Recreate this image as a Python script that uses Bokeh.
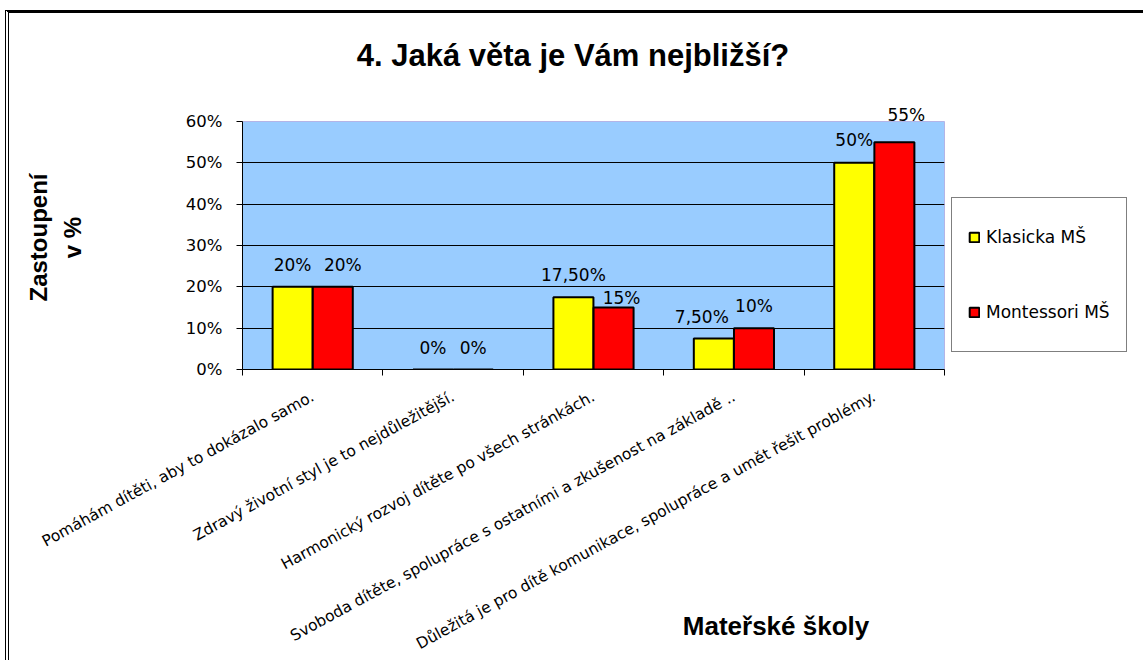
from bokeh.plotting import figure
from bokeh.models import (FactorRange, Range1d, ColumnDataSource, LinearAxis, CategoricalAxis,
                          FixedTicker, NumeralTickFormatter, Legend, LegendItem, LabelSet, Label, Grid)
from bokeh.transform import dodge
from bokeh.core.properties import value
from bokeh.embed import file_html
from bokeh.resources import INLINE

# ---------------- data ----------------
title_text = "4. Jaká věta je Vám nejbližší?"
x_title = "Mateřské školy"
y_title_lines = ["Zastoupení", "v %"]

categories = [
    "Pomáhám dítěti, aby to dokázalo samo.",
    "Zdravý životní styl je to nejdůležitější.",
    "Harmonický rozvoj dítěte po všech stránkách.",
    "Svoboda dítěte, spolupráce s ostatními a zkušenost na základě ..",
    "Důležitá je pro dítě komunikace, spolupráce a umět řešit problémy.",
]
series_names = ["Klasicka MŠ", "Montessori MŠ"]
klasicka = [0.20, 0.00, 0.175, 0.075, 0.50]
montessori = [0.20, 0.00, 0.15, 0.10, 0.55]
y_ticks = [0.0, 0.1, 0.2, 0.3, 0.4, 0.5, 0.6]

# label nudges (screen px) -- style only
k_dx = [0, 0, 0, -12, 0]
k_dy = [22, 22, 22, 22, 23]
m_dx = [10, 0, 8, 0, 12]
m_dy = [22, 22, 10, 22, 27]


def pct_label(v):
    pct = round(v * 100, 4)
    if abs(pct - round(pct)) < 1e-9:
        return f"{int(round(pct))}%"
    return f"{pct:.2f}%".replace(".", ",")


SMALL_FONT = "DejaVu Sans"
BIG_FONT = "Liberation Sans"
FRAME_W, FRAME_H = 702, 248
Y_MIN, Y_MAX = y_ticks[0], y_ticks[-1]
PX_PER_UNIT = FRAME_H / (Y_MAX - Y_MIN)
BAR_OFF, BAR_W = 0.143, 0.285
LABEL_SIZE = 17


def fits(v, dy):
    # does the (centred) label stay inside the plot frame?
    return (v - Y_MIN) * PX_PER_UNIT + dy + LABEL_SIZE / 2 + 1 <= FRAME_H


k_lbl = [pct_label(v) for v in klasicka]
m_lbl = [pct_label(v) for v in montessori]

src = ColumnDataSource(dict(
    cat=categories,
    k=klasicka, m=montessori,
    k_lbl=[t if fits(v, dy) else "" for t, v, dy in zip(k_lbl, klasicka, k_dy)],
    m_lbl=[t if fits(v, dy) else "" for t, v, dy in zip(m_lbl, montessori, m_dy)],
    k_dx=k_dx, k_dy=k_dy, m_dx=m_dx, m_dy=m_dy,
))

p = figure(
    x_range=FactorRange(*categories),
    y_range=Range1d(Y_MIN, Y_MAX),
    frame_width=FRAME_W, frame_height=FRAME_H,
    min_border_left=233, min_border_right=190,
    min_border_top=108, min_border_bottom=285,
    x_axis_location=None, y_axis_location=None,
    output_backend="svg", toolbar_location=None,
)
for g in p.grid:
    g.visible = False
p.styles = {"margin-left": "5px", "margin-top": "10px",
            "border-top": "3px solid black", "border-left": "4px double black"}
p.background_fill_color = "#99CCFF"
p.border_fill_color = "white"
p.outline_line_color = "#b4b4e6"
p.outline_line_width = 1

# grid (black lines inside plot area)
p.add_layout(Grid(dimension=1, ticker=FixedTicker(ticks=y_ticks[1:-1]),
                  grid_line_color="black", grid_line_width=1))

# y axis
yaxis = LinearAxis(
    ticker=FixedTicker(ticks=y_ticks),
    formatter=NumeralTickFormatter(format="0%"),
    axis_line_color="black", axis_line_width=1,
    major_tick_line_color="black", major_tick_out=6, major_tick_in=0,
    minor_tick_line_color=None,
    major_label_text_font=SMALL_FONT, major_label_text_font_size="16.5px",
    major_label_text_color="black", major_label_standoff=14,
)
p.add_layout(yaxis, "left")

# x axis: boundary ticks between categories (no labels)
bounds = list(range(len(categories) + 1))
xtick_axis = LinearAxis(
    ticker=FixedTicker(ticks=bounds),
    major_label_overrides={b: "" for b in bounds},
    axis_line_color="black", axis_line_width=1,
    major_tick_line_color="black", major_tick_out=6, major_tick_in=0,
    minor_tick_line_color=None,
    major_label_text_font_size="1px", major_label_standoff=0,
)
p.add_layout(xtick_axis, "below")

# x axis: category labels (rotated)
cat_axis = CategoricalAxis(
    axis_line_color=None, major_tick_line_color=None, minor_tick_line_color=None,
    major_label_orientation=0.5,
    major_label_text_font=SMALL_FONT, major_label_text_font_size="15.5px",
    major_label_text_color="black", major_label_standoff=14,
)
p.add_layout(cat_axis, "below")

# bars
r_k = p.vbar(x=dodge("cat", -BAR_OFF, range=p.x_range), top="k", width=BAR_W, source=src,
             fill_color="#FFFF00", line_color="black", line_width=2)
r_m = p.vbar(x=dodge("cat", BAR_OFF, range=p.x_range), top="m", width=BAR_W, source=src,
             fill_color="#FF0000", line_color="black", line_width=2)

# data labels inside the frame
for col, off in [("k", -BAR_OFF), ("m", BAR_OFF)]:
    p.add_layout(LabelSet(
        x=dodge("cat", off, range=p.x_range), y=col, text=col + "_lbl",
        x_offset=col + "_dx", y_offset=col + "_dy", source=src,
        text_align="center", text_baseline="middle",
        text_font=value(SMALL_FONT), text_font_size=f"{LABEL_SIZE}px", text_color="black",
    ))

# data labels that stick out above the frame: unclipped single labels
for vals, lbls, dxs, dys, off in [(klasicka, k_lbl, k_dx, k_dy, -BAR_OFF),
                                  (montessori, m_lbl, m_dx, m_dy, BAR_OFF)]:
    for i, (v, t, dx, dy) in enumerate(zip(vals, lbls, dxs, dys)):
        if not fits(v, dy):
            p.add_layout(Label(x=i + 0.5 + off, y=v, x_offset=dx, y_offset=dy, text=t,
                               text_align="center", text_baseline="middle",
                               text_font=SMALL_FONT, text_font_size=f"{LABEL_SIZE}px",
                               text_color="black"), "above")

# legend
legend = Legend(
    items=[LegendItem(label=series_names[0], renderers=[r_k]),
           LegendItem(label=series_names[1], renderers=[r_m])],
    location=(7, 17), orientation="vertical",
    padding=16, spacing=29, margin=0,
    glyph_width=12, glyph_height=12, label_height=46, label_standoff=6,
    label_text_font=SMALL_FONT, label_text_font_size="17px", label_text_color="black",
    border_line_color="black", border_line_width=1,
    background_fill_color="white", background_fill_alpha=1.0,
)
p.add_layout(legend, "right")

# titles (data-space positions relative to the frame, centred vertically)
p.add_layout(Label(x=2.354, y=0.7597, text=title_text, text_align="center",
                   text_baseline="middle", text_font=BIG_FONT, text_font_style="bold",
                   text_font_size="31px", text_color="black"), "above")
p.add_layout(Label(x=3.80, y=-0.6194, text=x_title, text_align="center",
                   text_baseline="middle", text_font=BIG_FONT, text_font_style="bold",
                   text_font_size="26px", text_color="black"), "above")
p.add_layout(Label(x=-1.453, y=0.3194, text=y_title_lines[0], angle=1.5708,
                   text_align="center", text_baseline="middle", text_font=BIG_FONT,
                   text_font_style="bold", text_font_size="24px", text_color="black"), "left")
p.add_layout(Label(x=-1.211, y=0.3194, text=y_title_lines[1], angle=1.5708,
                   text_align="center", text_baseline="middle", text_font=BIG_FONT,
                   text_font_style="bold", text_font_size="24px", text_color="black"), "left")

open("out.html", "w").write(file_html(p, INLINE))
